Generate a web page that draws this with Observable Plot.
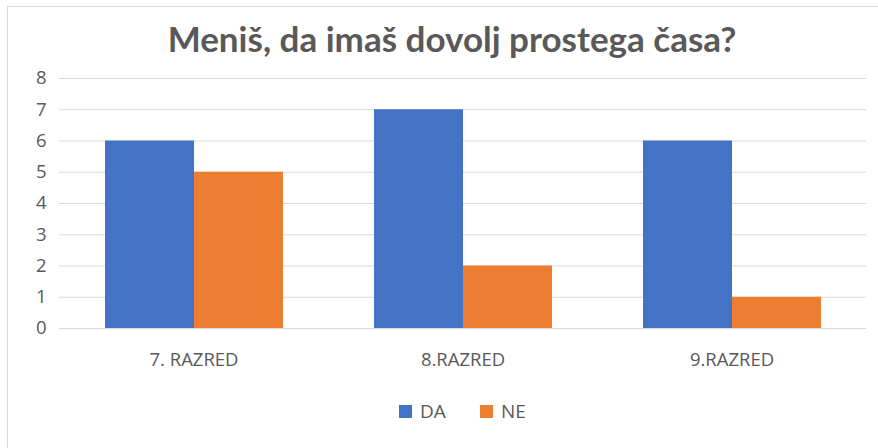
<!DOCTYPE html>
<html>
<head>
<meta charset="utf-8">
<script src="https://cdn.jsdelivr.net/npm/d3@7"></script>
<script src="https://cdn.jsdelivr.net/npm/@observablehq/plot@0.6"></script>
<style>
  html, body { margin: 0; padding: 0; background: #fff; }
  #wrap { position: relative; width: 878px; height: 448px; overflow: hidden; background: #fff; font-family: "Open Sans", "Noto Sans", sans-serif; }
  #frame { position: absolute; left: 7px; top: 6px; width: 900px; height: 460px; border: 1px solid #d9d9d9; box-sizing: border-box; }
  #title { position: absolute; left: 0; top: 0; width: 878px; height: 76px; line-height: 76px; text-align: center; padding-left: 26px; box-sizing: border-box;
           font-family: Lato, sans-serif; font-weight: 700; font-size: 35px; color: #595959; }
  #chart { position: absolute; left: 0; top: 60px; }
  #legend { position: absolute; left: 0; top: 391px; width: 878px; height: 40px; font-size: 19px; color: #595959; }
  .item { position: absolute; top: 0; height: 40px; display: flex; align-items: center; }
  .sw { width: 13px; height: 13px; margin-right: 8px; }
</style>
</head>
<body>
<div id="wrap">
  <div id="frame"></div>
  <div id="title">Meniš, da imaš dovolj prostega časa?</div>
  <div id="chart"></div>
  <div id="legend"></div>
</div>
<script>
const categories = ["7. RAZRED", "8.RAZRED", "9.RAZRED"];
const seriesNames = ["DA", "NE"];
const daValues = [6, 7, 6];
const neValues = [5, 2, 1];
const yTicks = [0, 1, 2, 3, 4, 5, 6, 7, 8];
const colors = ["#4472C4", "#ED7D31"];

const data = [];
categories.forEach((c, i) => {
  data.push({cat: c, series: "DA", value: daValues[i]});
  data.push({cat: c, series: "NE", value: neValues[i]});
});

const chart = Plot.plot({
  width: 878,
  height: 330,
  marginTop: 18,
  marginBottom: 62,
  marginLeft: 59,
  marginRight: 12,
  style: {fontFamily: "'Open Sans', 'Noto Sans', sans-serif", fontSize: "18.5px", color: "#595959", background: "transparent"},
  fx: {domain: categories, paddingInner: 0, paddingOuter: 0, label: null},
  x: {domain: seriesNames, paddingInner: 0, paddingOuter: 0.5, axis: null},
  y: {domain: [0, 8], ticks: yTicks, label: null},
  color: {domain: seriesNames, range: colors},
  marks: [
    Plot.gridY(yTicks, {stroke: "#d9d9d9", strokeOpacity: 1, strokeWidth: 1}),
    Plot.axisY(yTicks, {tickSize: 0, tickPadding: 13, fill: "#595959", fontSize: 18.5, label: null}),
    Plot.axisFx({anchor: "bottom", tickSize: 0, tickPadding: 24, fill: "#595959", fontSize: 18.5, label: null}),
    Plot.barY(data, {fx: "cat", x: "series", y: "value", fill: "series"})
  ]
});
document.getElementById("chart").appendChild(chart);

const legend = document.getElementById("legend");
const legendLeft = [399, 480];
seriesNames.forEach((s, i) => {
  const item = document.createElement("div");
  item.className = "item";
  item.style.left = legendLeft[i] + "px";
  const sw = document.createElement("div");
  sw.className = "sw";
  sw.style.background = colors[i];
  const t = document.createElement("span");
  t.textContent = s;
  item.appendChild(sw);
  item.appendChild(t);
  legend.appendChild(item);
});
</script>
</body>
</html>
